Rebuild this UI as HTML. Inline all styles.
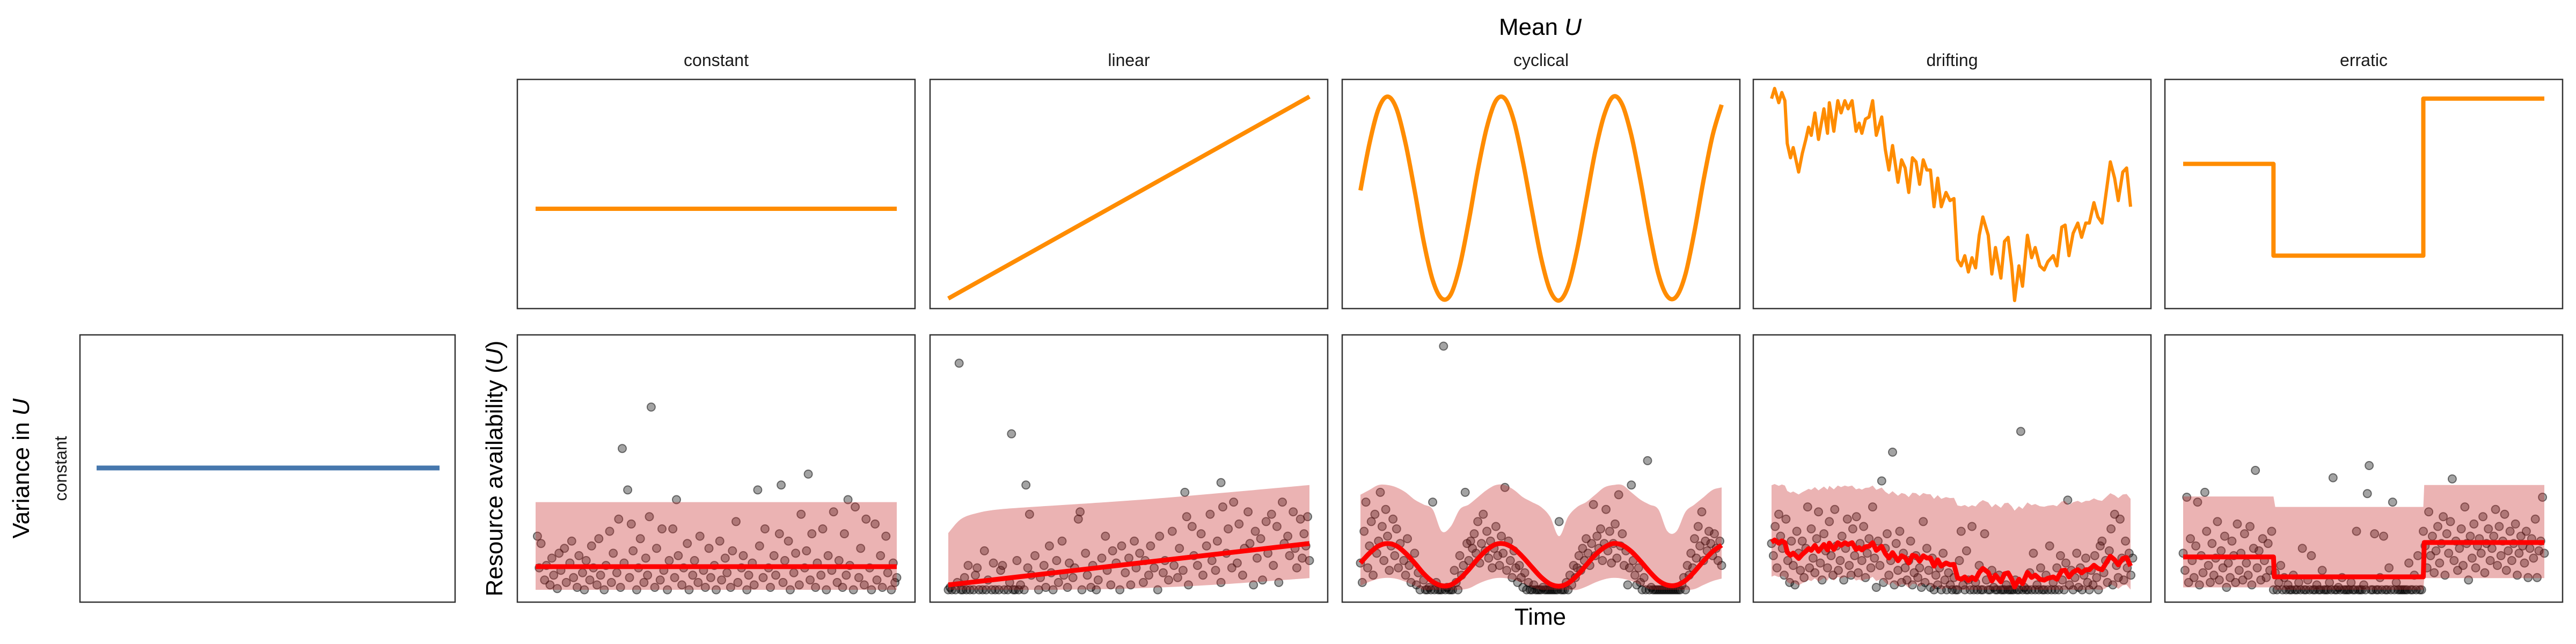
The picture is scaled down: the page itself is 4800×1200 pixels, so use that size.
<!DOCTYPE html>
<html><head><meta charset="utf-8"><title>Resource availability</title>
<style>
html,body{margin:0;padding:0;background:#fff;}
svg{display:block;font-family:"Liberation Sans",sans-serif;}
</style></head>
<body>
<svg id="chart" width="4800" height="1200" viewBox="0 0 4800 1200" xmlns="http://www.w3.org/2000/svg">
<rect width="4800" height="1200" fill="#fff"/>
<text x="2870" y="65" font-size="44" text-anchor="middle" fill="#000">Mean <tspan font-style="italic">U</tspan></text>
<text x="2870" y="1164" font-size="44" text-anchor="middle" fill="#000">Time</text>
<text transform="translate(936,873) rotate(-90)" font-size="44" text-anchor="middle" fill="#000">Resource availability (<tspan font-style="italic">U</tspan>)</text>
<text transform="translate(54,873) rotate(-90)" font-size="44" text-anchor="middle" fill="#000">Variance in <tspan font-style="italic">U</tspan></text>
<text transform="translate(124,873) rotate(-90)" font-size="32" text-anchor="middle" fill="#1a1a1a">constant</text>
</svg>
<script>
// ---- data ----
const panelNames = ["constant","linear","cyclical","drifting","erratic"];
const constMeanT = [0,200];
const constMeanV = [0.45,0.45];
const linMeanT = [0,200];
const linMeanV = [0.01,1.0];
const cycT = [0,5,10,15,20,25,30,35,40,45,50,55,60,65,70,75,80,85,90,95,100,105,110,115,120,125,130,135,140,145,150,155,160,165,170,175,180,185,190,195,200];
const cycV = [.54,.77,.94,1,.94,.77,.54,.29,.10,.01,.03,.17,.39,.64,.85,.98,.99,.88,.68,.44,.21,.05,.00,.07,.25,.49,.73,.91,1.0,.96,.81,.59,.34,.13,.02,.02,.13,.34,.59,.81,.96];
const cycRed = [1.10,1.50,1.80,1.90,1.80,1.50,1.10,.66,.33,.17,.20,.45,.83,1.27,1.64,1.87,1.88,1.69,1.34,.92,.52,.24,.15,.27,.59,1.01,1.43,1.74,1.90,1.83,1.57,1.18,.75,.38,.19,.19,.38,.75,1.18,1.57,1.83];
const cycHi = [3.9,4.1,4.3,4.3,4.2,4.0,3.7,3.5,3.3,2.4,2.6,3.3,3.5,3.8,4.1,4.3,4.3,4.1,3.8,3.6,3.4,3.0,2.2,3.0,3.4,3.6,3.9,4.2,4.3,4.3,4.0,3.7,3.5,3.3,2.4,2.4,3.2,3.5,3.8,4.1,4.2];
const cycLo = [.17,.33,.45,.49,.45,.33,.17,0,0,0,0,0,.06,.24,.39,.48,.48,.41,.27,.10,0,0,0,0,0,.13,.30,.43,.49,.46,.36,.20,.03,0,0,0,0,.03,.20,.36,.46];
const driftT = [0,1.7,4,5.7,7.4,8.7,10.5,12,15,17,19,20.5,22,24,26,29,31,32,34.5,36.7,38.5,40.6,42.4,44.6,46.8,48.5,50,52,54,56,58,61,63,65,67,70,72,74,76,78,80,82,84,86,88,90,92,94,96.6,98.8,101,103,105,107,109,111,113,115,117,120,122,124,127,129,131,133,134.6,137,139,141.7,144,146,148.6,151,153,156,158,160.7,162.6,164.7,167,169.6,171.7,174,176,178.5,180.7,183,185,187.6,190,192,194.5,196.6,198.8];
const driftV = [.99,1.04,.97,1.02,.98,.77,.70,.75,.63,.72,.79,.85,.81,.92,.79,.94,.82,.97,.83,.98,.92,.98,.94,.98,.83,.87,.82,.89,.90,.98,.81,.90,.74,.64,.76,.58,.69,.65,.53,.70,.68,.57,.69,.64,.64,.46,.60,.46,.53,.49,.50,.20,.17,.22,.14,.21,.16,.32,.41,.32,.13,.26,.11,.29,.31,.17,.00,.17,.07,.32,.21,.26,.17,.15,.19,.22,.17,.36,.37,.22,.33,.38,.31,.38,.38,.48,.41,.38,.51,.68,.60,.49,.63,.65,.46];
const errT = [0,50,50,133,133,200];
const errV = [.67,.67,.22,.22,.99,.99];
const constRibT = [0,200], constRibLo = [0,0], constRibHi = [3.6,3.6], constRed = [0.95,0.95];
const linRibT = [0,7,16,28,55,100,146,200];
const linRibHi = [2.33,2.9,3.15,3.3,3.44,3.66,3.94,4.3];
const linRibLo = [0,0,0,0,0,0.05,0.2,0.48];
const linRedT = [0,200], linRed = [0.2,1.9];
const errRibT = [0,50,51,133,133.5,200];
const errRibHi = [3.83,3.83,3.4,3.4,4.3,4.3];
const errRibLo = [0.1,0.1,0,0,0.48,0.48];
const errRedT = [0,50,50.5,133,133.5,200];
const errRed = [1.35,1.35,0.53,0.53,1.94,1.94];
const constPts = [64,7.5,48,5.8,51,4.1,78,3.7,123,4.1,136,4.3,151,4.75,173,3.7,1,2.2,2,0.9,3,1.9,5,0.4,6,1.0,8,0.2,9,1.3,10,0.6,12,0.05,13,1.5,14,0.8,16,1.7,17,0.3,19,1.1,20,2.0,21,0.5,23,0.1,24,1.4,26,0.7,27,0.0,28,1.2,30,0.4,31,1.8,32,0.9,34,0.2,35,2.1,36,0.6,38,0.0,39,1.0,41,2.4,42,0.3,43,1.5,45,0.7,46,2.9,47,0.1,49,1.1,52,0.5,53,2.7,54,1.6,56,0.0,57,0.9,58,2.1,60,0.3,61,1.3,62,0.6,63,3.0,66,0.1,67,1.7,69,0.4,70,2.5,71,0.8,73,0.0,74,1.2,76,2.5,77,0.5,79,1.4,81,0.2,82,0.9,84,1.9,85,0.0,87,0.6,88,1.2,90,0.3,91,2.2,93,0.8,94,0.1,96,1.7,97,0.5,99,1.0,100,0.0,102,2.0,103,0.4,105,1.3,106,0.7,108,0.1,109,1.6,111,2.8,112,0.3,114,0.9,115,1.4,117,0.0,118,0.6,120,1.1,121,0.2,124,1.8,126,0.5,127,2.5,129,0.9,130,0.1,132,1.4,133,0.6,135,2.3,137,0.3,138,1.2,140,2.0,141,0.0,143,0.7,144,1.5,146,0.2,147,3.1,149,0.9,150,1.6,152,0.4,153,2.3,155,0.1,156,1.1,158,0.6,159,2.5,161,0.0,162,1.4,164,0.8,165,3.2,167,0.3,168,1.2,170,0.1,171,2.3,172,0.6,174,1.0,176,0.0,177,3.4,179,0.5,180,1.7,182,0.2,183,2.9,185,0.9,186,0.0,188,2.7,189,0.4,191,1.4,192,0.1,194,2.2,195,0.7,197,0.0,198,1.1,199,0.3,200,0.5];
const linPts = [6,9.3,35,6.4,43,4.3,131,4.0,151,4.4,0,0.0,1,0.1,2,0.0,4,0.0,5,0.3,7,0.0,8,0.0,9,0.5,10,0.0,11,1.0,12,0.0,14,0.0,15,0.6,16,0.9,17,0.0,19,0.0,20,1.6,21,0.0,22,0.4,24,0.0,25,1.1,26,0.0,28,0.0,29,0.8,30,1.0,31,0.0,33,0.0,34,0.3,36,0.0,37,0.0,38,1.2,39,0.0,40,0.2,42,0.0,44,0.9,45,3.1,46,0.6,48,1.4,50,0.0,51,0.5,53,1.0,54,0.1,56,1.8,57,0.7,58,0.0,60,1.2,61,0.3,63,2.0,64,0.6,66,0.1,67,1.1,69,0.5,70,0.9,72,2.9,73,3.2,74,0.0,76,1.5,77,0.6,79,0.1,80,1.0,82,0.0,83,0.4,85,1.3,87,2.2,88,0.8,90,0.2,91,1.6,93,1.1,95,0.0,96,1.8,98,0.7,100,1.3,101,0.2,103,2.0,104,0.9,106,1.5,108,0.3,109,1.2,111,0.6,112,1.8,114,0.9,116,0.0,117,2.2,119,0.7,120,1.2,122,0.4,124,2.4,125,1.0,127,0.5,128,1.7,130,0.8,132,3.0,133,0.2,135,2.6,136,1.4,138,1.0,140,2.3,141,0.6,143,1.8,145,3.1,146,1.2,148,0.8,149,2.0,151,0.3,152,3.4,154,1.5,155,2.5,157,0.9,158,3.6,160,1.1,161,2.7,163,0.6,164,1.7,166,3.2,167,1.9,169,0.2,170,2.4,171,1.3,173,2.1,174,0.4,176,2.8,177,1.5,179,3.1,180,1.0,182,2.6,183,0.3,185,3.6,186,1.9,188,2.2,189,1.4,191,3.2,192,1.7,193,0.9,195,2.9,196,1.3,197,2.3,198,1.8,199,3.0,200,1.2];
const cycPts = [46,10,159,5.3,150,4.3,58,4.0,40,3.6,80,4.2,148,0.2,0,1.1,1,0.3,2,2.4,3,3.6,4,0.9,5,1.8,6,2.8,7,0.6,8,3.1,9,1.5,10,2.0,11,4.0,12,2.6,13,1.2,14,3.3,15,2.2,16,0.8,17,1.8,18,2.9,19,1.4,20,2.5,21,0.9,22,1.9,24,1.2,25,0.6,26,2.1,27,1.0,28,0.3,30,1.5,31,0.2,32,0.7,33,0.0,35,0.4,36,0.0,37,0.0,38,0.1,39,0.0,41,0.0,42,0.3,43,0.0,44,0.0,45,0.0,47,0.0,48,0.1,49,0.0,50,0.0,51,0.0,52,0.8,53,0.3,54,0.0,55,1.4,56,0.6,57,1.0,59,1.9,60,1.2,61,2.0,62,1.7,63,2.3,64,1.5,65,2.8,66,1.1,67,1.9,68,3.1,69,1.6,70,2.4,71,1.3,72,2.0,73,0.9,74,1.7,75,2.6,76,1.4,77,1.0,78,2.2,79,1.5,81,0.8,82,2.0,83,1.2,84,0.5,85,1.6,86,0.9,87,0.3,88,1.0,89,0.5,90,0.1,91,0.7,92,0.0,93,0.3,94,0.0,95,0.0,96,0.2,97,0.0,98,0.0,99,0.0,100,0.0,101,0.1,102,0.0,103,0.0,104,0.0,105,0.0,106,0.0,107,0.0,108,0.0,109,0.0,110,2.8,111,0.0,112,0.0,113,0.0,114,0.3,115,0.0,116,0.6,117,0.2,118,1.0,119,0.5,120,0.9,121,1.4,122,0.8,123,1.7,124,1.2,125,2.1,126,1.5,127,1.0,128,1.9,129,3.5,130,1.4,131,2.2,132,1.7,133,2.5,134,1.2,135,1.9,136,3.3,137,1.6,138,2.4,139,1.1,140,1.9,141,2.7,142,1.3,143,3.9,144,1.8,145,2.3,146,1.0,147,1.6,149,0.9,151,1.2,152,0.6,153,0.2,154,0.9,155,0.3,156,0.0,157,0.5,158,0.0,160,0.0,161,0.1,162,0.0,163,0.0,164,0.0,165,0.0,166,0.0,167,0.0,168,0.0,169,0.0,170,0.0,171,0.0,172,0.0,173,0.0,174,0.0,175,0.0,176,0.0,177,0.0,178,0.2,179,0.5,180,0.0,181,1.0,182,0.6,183,1.5,184,0.9,185,2.1,186,1.3,187,2.6,188,1.8,189,3.2,190,1.2,191,2.0,192,1.6,193,2.4,194,1.9,195,1.4,196,2.3,197,1.7,198,1.2,199,2.0,200,1.0];
const driftPts = [138,6.5,67,5.65,61,4.47,164,3.68,0,1.9,1,1.4,2,2.6,3,0.9,4,3.1,5,2.2,6,1.7,7,0.6,8,2.9,9,1.2,10,0.3,11,2.0,12,1.0,13,0.2,14,2.4,15,1.5,16,0.8,17,2.0,18,0.5,19,1.7,20,3.4,21,0.9,22,2.5,23,1.3,24,0.7,25,2.1,26,3.2,27,1.1,28,0.4,29,2.3,30,1.6,31,0.9,32,2.8,33,1.4,34,0.6,35,3.3,36,1.8,37,0.8,38,1.2,39,2.2,40,0.4,41,1.7,42,2.9,43,1.0,44,0.6,45,2.5,46,1.4,47,3.0,48,0.7,49,1.9,50,1.2,51,2.6,52,0.5,53,1.5,54,2.1,55,0.9,56,3.4,57,1.3,58,0.1,59,2.0,60,1.0,62,0.3,63,1.7,64,2.3,65,0.6,66,1.2,68,0.2,69,1.9,70,0.8,71,2.4,72,0.3,73,1.5,74,0.9,75,0.4,76,1.2,77,2.0,78,0.2,79,0.7,80,1.4,81,0.5,82,0.9,83,0.1,84,2.8,85,0.3,86,1.7,87,0.8,88,0.1,89,1.3,90,0.0,91,0.6,92,0.2,93,0.9,94,0.0,95,1.5,96,0.4,97,0.0,98,0.7,99,0.2,100,0.0,101,0.5,102,0.0,103,0.0,104,1.2,105,2.4,106,0.2,107,0.0,108,1.6,109,0.4,110,0.0,111,2.6,112,0.0,113,0.3,114,0.0,115,1.0,116,0.0,117,0.0,118,2.3,119,0.4,120,0.0,121,0.0,122,0.8,123,0.1,124,0.0,125,0.0,126,0.6,127,0.0,128,0.0,129,0.0,130,0.2,131,0.0,132,0.0,133,0.0,134,0.0,135,0.4,136,0.0,137,0.0,139,0.0,140,0.1,141,0.0,142,0.0,143,0.7,144,0.0,145,1.5,146,0.0,147,0.2,148,0.0,149,0.9,150,0.0,151,0.0,152,0.6,153,0.0,154,1.8,155,0.0,156,0.3,157,0.0,158,0.9,159,0.0,160,1.4,161,0.4,162,0.0,163,1.1,165,0.2,166,0.8,167,0.0,168,0.5,169,1.5,170,0.1,171,0.9,172,0.0,173,0.6,174,1.3,175,0.3,176,0.0,177,0.8,178,0.2,179,1.4,180,0.5,181,0.0,182,1.8,183,2.0,184,0.7,185,1.2,186,0.3,187,1.6,188,2.5,189,0.2,190,3.1,191,1.0,192,0.5,193,2.9,194,1.3,195,0.4,196,2.0,197,0.9,198,1.5,199,0.6,200,1.3];
const errPts = [40,4.9,83,4.6,103,5.1,102,3.95,116,3.6,149,4.55,12,4.0,0,1.5,1,0.8,2,3.8,3,0.3,4,2.1,5,1.2,6,0.5,7,1.8,8,3.6,9,0.2,10,1.4,11,0.7,13,2.4,14,1.0,15,0.3,16,1.9,17,0.6,18,1.3,19,2.8,20,0.4,21,1.6,22,0.9,23,2.2,24,0.1,25,1.1,26,0.5,27,2.0,28,1.4,29,0.3,30,2.7,31,0.8,32,1.5,33,0.4,34,2.3,35,1.1,36,0.6,37,2.6,38,0.2,39,1.7,41,0.9,42,1.6,43,0.4,44,2.1,45,1.2,46,0.5,47,1.9,48,0.8,49,2.4,50,0.0,51,0.7,52,0.0,53,0.3,54,1.0,55,0.0,56,0.5,57,0.0,58,0.2,59,0.0,60,0.0,61,0.6,62,0.0,63,0.0,64,0.3,65,0.0,66,1.7,67,0.0,68,0.0,69,0.4,70,0.0,71,1.4,72,0.0,73,0.0,74,0.2,75,0.0,76,0.0,77,0.8,78,0.0,79,0.0,80,0.0,81,0.3,82,0.0,84,0.0,85,0.0,86,0.1,87,0.0,88,0.5,89,0.0,90,0.0,91,0.0,92,0.0,93,0.3,94,0.0,95,0.0,96,2.4,97,0.0,98,0.0,99,0.0,100,0.2,101,0.0,104,0.0,105,0.0,106,2.3,107,0.0,108,0.0,109,0.5,110,0.0,111,2.2,112,0.0,113,0.0,114,0.9,115,0.0,117,0.0,118,0.3,119,0.0,120,0.0,121,0.0,122,0.0,123,0.0,124,0.0,125,1.1,126,0.0,127,0.0,128,0.6,129,0.0,130,1.4,131,0.0,132,0.0,133,2.4,134,1.8,135,0.9,136,3.2,137,1.4,138,2.2,139,0.7,140,1.6,141,2.6,142,1.1,143,1.9,144,3.0,145,0.6,146,2.3,147,1.5,148,2.8,150,1.2,151,2.0,152,0.8,153,1.7,154,2.5,155,1.0,156,3.4,157,1.9,158,0.4,159,2.2,160,1.3,161,2.7,162,0.9,163,1.8,164,2.1,165,1.5,166,3.0,167,0.7,168,1.9,169,2.5,170,1.2,171,1.7,172,2.2,173,3.3,174,1.0,175,2.6,176,1.4,177,2.0,178,3.1,179,0.8,180,1.6,181,2.4,182,1.2,183,1.9,184,2.7,185,0.6,186,1.5,187,2.2,188,1.8,189,1.1,190,2.4,191,0.5,192,1.7,193,2.1,194,1.3,195,2.9,196,0.5,197,1.6,198,2.0,199,3.8,200,1.5];
const varianceLevel = [0.5,0.5];

// ---- drawing ----
const NS = "http://www.w3.org/2000/svg";
const svg = document.getElementById("chart");
const panelLefts = [964,1733,2501,3267,4034];
const PW = 741, TOP_Y = 148, TOP_H = 427, BOT_Y = 624, BOT_H = 498;
function mk(tag, attrs, parent) {
  const e = document.createElementNS(NS, tag);
  for (const k in attrs) e.setAttribute(k, attrs[k]);
  (parent || svg).appendChild(e);
  return e;
}
function xScale(left) { return t => left + 34 + t / 200 * 673; }
const yTop = v => 560 - v * 380;
const yBot = u => 1099 - u * 45.4;
function linePath(ts, vs, xs, ys) {
  return ts.map((t, i) => (i ? "L" : "M") + xs(t).toFixed(1) + "," + ys(vs[i]).toFixed(1)).join("");
}
function smoothPath(ts, vs, xs, ys, cont) {
  const p = ts.map((t, i) => [xs(t), ys(vs[i])]);
  let d = cont ? "L" : "M";
  d += p[0][0].toFixed(1) + "," + p[0][1].toFixed(1);
  for (let i = 0; i < p.length - 1; i++) {
    const p0 = p[Math.max(0, i - 1)], p1 = p[i], p2 = p[i + 1], p3 = p[Math.min(p.length - 1, i + 2)];
    const c1 = [p1[0] + (p2[0] - p0[0]) / 6, p1[1] + (p2[1] - p0[1]) / 6];
    const c2 = [p2[0] - (p3[0] - p1[0]) / 6, p2[1] - (p3[1] - p1[1]) / 6];
    d += "C" + c1.map(n => n.toFixed(1)).join(",") + " " + c2.map(n => n.toFixed(1)).join(",") + " " + p2[0].toFixed(1) + "," + p2[1].toFixed(1);
  }
  return d;
}
function ribbonPath(ts, lo, hi, xs, ys, smooth) {
  const rt = ts.slice().reverse(), rl = lo.slice().reverse();
  if (smooth) return smoothPath(ts, hi, xs, ys) + smoothPath(rt, rl, xs, ys, true) + "Z";
  return linePath(ts, hi, xs, ys) + linePath(rt, rl, xs, ys).replace(/^M/, "L") + "Z";
}

const vp = mk("g", {});


const vpLine = mk("line", {x1: 180, x2: 819, y1: 872, y2: 872, stroke: "#4677ad", "stroke-width": 9}, vp);


const vpBox = mk("rect", {x: 149, y: 624, width: 699, height: 498, fill: "none", stroke: "#333", "stroke-width": 2.5}, vp);



const topSeries = [
  [constMeanT, constMeanV, false], [linMeanT, linMeanV, false], [cycT, cycV, true], [driftT, driftV, false], [errT, errV, false]
];
const driftRed = driftV.map(v => 0.12 + 1.85 * v);
const driftHi = driftV.map(v => 3.25 + 1.05 * v);
const driftLo = driftV.map(v => Math.max(0, (v - 0.45) * 1.0));
const ribbons = [
  [constRibT, constRibLo, constRibHi, false], [linRibT, linRibLo, linRibHi, true], [cycT, cycLo, cycHi, true], [driftT, driftLo, driftHi, false], [errRibT, errRibLo, errRibHi, false]
];
const reds = [
  [constRibT, constRed, false], [linRedT, linRed, false], [cycT, cycRed, true], [driftT, driftRed, false], [errRedT, errRed, false]
];
const pts = [constPts, linPts, cycPts, driftPts, errPts];

panelNames.forEach((name, i) => {
  const L = panelLefts[i], xs = xScale(L);
  const lab = mk("text", {x: L + PW / 2, y: 123, "font-size": 32, "text-anchor": "middle", fill: "#1a1a1a"});
  lab.textContent = name;
  
  

  const tg = mk("g", {});
  
  
  const s = topSeries[i];
  const ml = mk("path", {d: s[2] ? smoothPath(s[0], s[1], xs, yTop) : linePath(s[0], s[1], xs, yTop), fill: "none", stroke: "#ff8c00", "stroke-width": name === "drifting" ? 6 : 8, "stroke-linejoin": "round"}, tg);
  
  
  const tb = mk("rect", {x: L, y: TOP_Y, width: PW, height: TOP_H, fill: "none", stroke: "#333", "stroke-width": 2.5}, tg);
  
  

  const bg = mk("g", {});
  
  
  const P = pts[i];
  for (let k = 0; k < P.length; k += 2) {
    const c = mk("circle", {cx: xs(P[k]).toFixed(1), cy: yBot(P[k + 1]).toFixed(1), r: 7.5, fill: "rgba(0,0,0,0.36)", stroke: "rgba(0,0,0,0.5)", "stroke-width": 2}, bg);
    
    
  }
  const r = ribbons[i];
  const rib = mk("path", {d: ribbonPath(r[0], r[1], r[2], xs, yBot, r[3]), fill: "rgba(198,38,38,0.35)"}, bg);
  
  
  const rd = reds[i];
  const rl = mk("path", {d: rd[2] ? smoothPath(rd[0], rd[1], xs, yBot) : linePath(rd[0], rd[1], xs, yBot), fill: "none", stroke: "#ff0000", "stroke-width": 9, "stroke-linejoin": "round"}, bg);
  
  
  const bb = mk("rect", {x: L, y: BOT_Y, width: PW, height: BOT_H, fill: "none", stroke: "#333", "stroke-width": 2.5}, bg);
  
  
});
</script>
</body></html>
